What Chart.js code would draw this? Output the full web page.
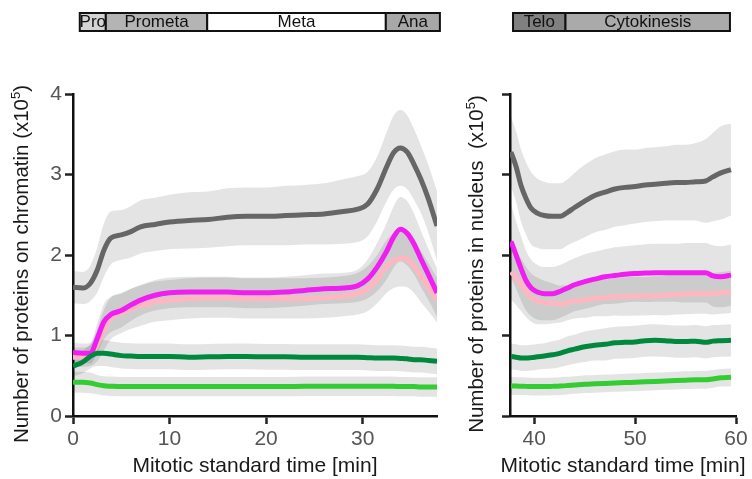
<!DOCTYPE html>
<html>
<head>
<meta charset="utf-8">
<script src="https://cdn.jsdelivr.net/npm/chart.js@4.4.1/dist/chart.umd.min.js"></script>
<style>
  html, body { margin: 0; padding: 0; background: #fff; }
  #wrap { position: relative; width: 752px; height: 479px; overflow: hidden; }
  canvas { position: absolute; top: 0; }
  #chromatin { left: 0; }
  #nucleus { left: 450px; }
</style>
</head>
<body>
<div id="wrap">
  <canvas id="chromatin" width="450" height="479"></canvas>
  <canvas id="nucleus" width="302" height="479"></canvas>
</div>
<script>
// ---- Chromatin-bound pool, prophase to anaphase (x10^5 proteins) ----
const timeChromatin = [0, 1, 1.8, 2.5, 3.2, 3.9, 5, 6, 7, 8.5, 10, 12, 14, 16, 18, 20, 22, 24, 26, 28, 29.5, 30.5, 31.5, 32.5, 33.2, 33.9, 34.6, 35.3, 36, 36.8, 37.7];
const grayChromatin = [1.60, 1.59, 1.65, 1.81, 2.06, 2.21, 2.25, 2.29, 2.35, 2.38, 2.41, 2.43, 2.44, 2.47, 2.48, 2.48, 2.49, 2.50, 2.51, 2.54, 2.57, 2.63, 2.82, 3.10, 3.27, 3.33, 3.28, 3.13, 2.95, 2.70, 2.36];
const graySdChromatin = [0.20, 0.20, 0.22, 0.28, 0.33, 0.33, 0.31, 0.32, 0.33, 0.33, 0.34, 0.35, 0.35, 0.36, 0.36, 0.36, 0.37, 0.37, 0.38, 0.40, 0.41, 0.40, 0.40, 0.43, 0.46, 0.47, 0.46, 0.44, 0.42, 0.42, 0.43];
const magentaChromatin = [0.79, 0.78, 0.78, 0.96, 1.17, 1.26, 1.31, 1.38, 1.44, 1.50, 1.53, 1.54, 1.54, 1.54, 1.53, 1.53, 1.54, 1.56, 1.58, 1.59, 1.62, 1.70, 1.85, 2.05, 2.22, 2.32, 2.27, 2.14, 1.96, 1.76, 1.53];
const magentaSdChromatin = [0.12, 0.12, 0.13, 0.18, 0.22, 0.22, 0.21, 0.20, 0.19, 0.19, 0.19, 0.19, 0.19, 0.19, 0.19, 0.19, 0.19, 0.19, 0.19, 0.19, 0.20, 0.24, 0.30, 0.35, 0.38, 0.40, 0.40, 0.38, 0.35, 0.32, 0.30];
const pinkChromatin = [0.73, 0.73, 0.75, 0.88, 1.07, 1.21, 1.28, 1.33, 1.37, 1.42, 1.44, 1.46, 1.47, 1.47, 1.46, 1.46, 1.46, 1.46, 1.47, 1.49, 1.52, 1.58, 1.70, 1.86, 1.93, 1.96, 1.95, 1.87, 1.74, 1.60, 1.44];
const pinkSdChromatin = [0.12, 0.12, 0.13, 0.20, 0.25, 0.26, 0.25, 0.25, 0.25, 0.25, 0.25, 0.25, 0.25, 0.25, 0.25, 0.25, 0.25, 0.25, 0.25, 0.25, 0.26, 0.28, 0.30, 0.33, 0.34, 0.35, 0.35, 0.34, 0.32, 0.30, 0.28];
const darkGreenChromatin = [0.62, 0.67, 0.74, 0.78, 0.78, 0.77, 0.75, 0.745, 0.74, 0.74, 0.74, 0.73, 0.735, 0.74, 0.74, 0.735, 0.735, 0.73, 0.73, 0.73, 0.73, 0.725, 0.72, 0.72, 0.72, 0.715, 0.71, 0.70, 0.70, 0.69, 0.68];
const darkGreenSdChromatin = [0.13, 0.14, 0.15, 0.16, 0.16, 0.16, 0.16, 0.16, 0.16, 0.16, 0.16, 0.16, 0.16, 0.16, 0.16, 0.16, 0.16, 0.16, 0.16, 0.16, 0.16, 0.16, 0.16, 0.16, 0.16, 0.16, 0.16, 0.16, 0.16, 0.16, 0.16];
const lightGreenChromatin = [0.42, 0.42, 0.41, 0.39, 0.375, 0.37, 0.365, 0.365, 0.365, 0.365, 0.365, 0.365, 0.365, 0.365, 0.365, 0.365, 0.365, 0.37, 0.37, 0.37, 0.37, 0.37, 0.37, 0.37, 0.37, 0.365, 0.365, 0.365, 0.36, 0.36, 0.36];
const lightGreenSdChromatin = [0.13, 0.13, 0.13, 0.12, 0.12, 0.12, 0.12, 0.12, 0.12, 0.12, 0.12, 0.12, 0.12, 0.12, 0.12, 0.12, 0.12, 0.12, 0.12, 0.12, 0.12, 0.12, 0.12, 0.12, 0.12, 0.12, 0.12, 0.12, 0.12, 0.12, 0.12];

// ---- Nuclear pool, telophase and cytokinesis (x10^5 proteins) ----
const timeNucleus = [37.7, 38.2, 38.7, 39.2, 39.7, 40.3, 41, 41.8, 42.6, 43.3, 44, 45, 46, 47, 48, 49, 50, 51, 52, 53, 54, 55, 56, 57, 57.7, 58.5, 59.5];
const grayNucleus = [3.28, 3.10, 2.86, 2.70, 2.58, 2.52, 2.49, 2.48, 2.48, 2.53, 2.59, 2.67, 2.74, 2.78, 2.82, 2.84, 2.85, 2.87, 2.88, 2.89, 2.90, 2.90, 2.91, 2.92, 2.97, 3.02, 3.06];
const graySdNucleus = [0.43, 0.44, 0.45, 0.45, 0.45, 0.43, 0.42, 0.41, 0.41, 0.41, 0.43, 0.45, 0.46, 0.47, 0.47, 0.47, 0.46, 0.46, 0.46, 0.46, 0.47, 0.47, 0.48, 0.52, 0.55, 0.58, 0.57];
const magentaNucleus = [2.17, 2.00, 1.83, 1.68, 1.59, 1.54, 1.52, 1.52, 1.55, 1.59, 1.63, 1.67, 1.70, 1.73, 1.745, 1.76, 1.77, 1.775, 1.78, 1.78, 1.78, 1.78, 1.78, 1.78, 1.74, 1.73, 1.75];
const magentaSdNucleus = [0.45, 0.42, 0.40, 0.37, 0.35, 0.34, 0.33, 0.33, 0.33, 0.33, 0.33, 0.34, 0.34, 0.34, 0.35, 0.35, 0.35, 0.36, 0.36, 0.36, 0.36, 0.37, 0.37, 0.37, 0.38, 0.38, 0.38];
const pinkNucleus = [1.79, 1.72, 1.63, 1.54, 1.47, 1.43, 1.41, 1.40, 1.39, 1.41, 1.43, 1.44, 1.46, 1.47, 1.48, 1.485, 1.49, 1.49, 1.495, 1.50, 1.51, 1.515, 1.52, 1.52, 1.52, 1.53, 1.54];
const pinkSdNucleus = [0.35, 0.34, 0.33, 0.31, 0.30, 0.29, 0.27, 0.25, 0.23, 0.22, 0.22, 0.22, 0.22, 0.23, 0.23, 0.24, 0.24, 0.24, 0.24, 0.25, 0.25, 0.25, 0.25, 0.25, 0.26, 0.26, 0.26];
const darkGreenNucleus = [0.74, 0.73, 0.72, 0.72, 0.725, 0.735, 0.745, 0.76, 0.78, 0.81, 0.83, 0.86, 0.88, 0.89, 0.91, 0.915, 0.92, 0.935, 0.94, 0.935, 0.925, 0.925, 0.93, 0.915, 0.93, 0.935, 0.94];
const darkGreenSdNucleus = [0.16, 0.16, 0.16, 0.16, 0.16, 0.16, 0.16, 0.17, 0.17, 0.18, 0.18, 0.19, 0.19, 0.20, 0.20, 0.20, 0.20, 0.20, 0.20, 0.20, 0.20, 0.20, 0.20, 0.20, 0.20, 0.20, 0.20];
const lightGreenNucleus = [0.375, 0.372, 0.37, 0.368, 0.366, 0.365, 0.365, 0.368, 0.372, 0.378, 0.385, 0.395, 0.40, 0.405, 0.41, 0.415, 0.42, 0.425, 0.43, 0.435, 0.44, 0.445, 0.45, 0.45, 0.46, 0.475, 0.48];
const lightGreenSdNucleus = [0.11, 0.11, 0.11, 0.11, 0.11, 0.11, 0.11, 0.11, 0.11, 0.11, 0.11, 0.11, 0.11, 0.11, 0.11, 0.11, 0.11, 0.11, 0.11, 0.11, 0.11, 0.11, 0.11, 0.11, 0.11, 0.11, 0.11];

// ---- Axis ticks ----
const yTicks = [0, 1, 2, 3, 4];
const xTicksChromatin = [0, 10, 20, 30];
const xTicksNucleus = [40, 50, 60];

// ---- Mitotic phase bars (minutes) ----
const phasesChromatin = ['Pro', 'Prometa', 'Meta', 'Ana'];
const phaseStartsChromatin = [0.7, 3.4, 13.9, 32.4];
const phaseEndsChromatin = [3.4, 13.9, 32.4, 38.0];
const phasesNucleus = ['Telo', 'Cytokinesis'];
const phaseStartsNucleus = [37.9, 43.1];
const phaseEndsNucleus = [43.1, 59.4];

const FONT = "'Liberation Sans', Arial, Helvetica, sans-serif";
const X_TITLE = 'Mitotic standard time [min]';
const COLORS = {
  gray: '#666666',
  magenta: '#f01ef0',
  pink: '#ffb6c1',
  darkGreen: '#00883f',
  lightGreen: '#33cc33'
};
const PHASE_FILLS = {
  Pro: '#d4d4d4', Prometa: '#b4b4b4', Meta: '#ffffff', Ana: '#a8a8a8',
  Telo: '#808080', Cytokinesis: '#aaaaaa'
};
Chart.defaults.font.family = FONT;

function points(time, values) {
  return time.map((t, i) => ({ x: t, y: values[i] }));
}

// mean ± SD shaded envelope: upper edge, then lower edge filled back to it
function band(time, mean, sd) {
  const common = {
    pointRadius: 0, borderWidth: 0, borderColor: 'transparent',
    cubicInterpolationMode: 'monotone', order: 10
  };
  return [
    Object.assign({}, common, { data: time.map((t, i) => ({ x: t, y: mean[i] + sd[i] })), fill: false }),
    Object.assign({}, common, { data: time.map((t, i) => ({ x: t, y: mean[i] - sd[i] })),
      fill: '-1', backgroundColor: 'rgba(0,0,0,0.105)' })
  ];
}

function line(time, mean, color, order) {
  return {
    data: points(time, mean), borderColor: color, borderWidth: 5, pointRadius: 0,
    cubicInterpolationMode: 'monotone', fill: false, order: order,
    borderCapStyle: 'butt', borderJoinStyle: 'round'
  };
}

// Phase annotation bar above the plot, positioned on the x scale
const phaseBarPlugin = {
  id: 'phaseBar',
  afterDraw(chart, args, opts) {
    const { ctx } = chart;
    const xs = chart.scales.x;
    ctx.save();
    ctx.font = '17px ' + FONT;
    ctx.textAlign = 'center';
    ctx.textBaseline = 'middle';
    opts.labels.forEach((name, i) => {
      const x0 = xs.getPixelForValue(opts.starts[i]);
      const x1 = xs.getPixelForValue(opts.ends[i]);
      ctx.fillStyle = PHASE_FILLS[name];
      ctx.fillRect(x0, 13, x1 - x0, 18);
      ctx.lineWidth = 2;
      ctx.strokeStyle = '#111';
      ctx.strokeRect(x0, 13, x1 - x0, 18);
      ctx.fillStyle = '#111';
      ctx.fillText(name, (x0 + x1) / 2, 22.5);
    });
    ctx.restore();
  }
};

// Axis titles: x title centred under the axis (allowed to run past its ends),
// rotated y title with a superscript exponent
const axisTitlePlugin = {
  id: 'axisTitles',
  afterDraw(chart, args, opts) {
    const { ctx } = chart;
    const xs = chart.scales.x;
    ctx.save();
    ctx.fillStyle = '#1a1a1a';
    ctx.textBaseline = 'middle';
    ctx.textAlign = 'center';
    ctx.font = '21px ' + FONT;
    ctx.fillText(X_TITLE, (xs.left + xs.right) / 2, 466);

    ctx.translate(opts.x, opts.y);
    ctx.rotate(-Math.PI / 2);
    ctx.textAlign = 'left';
    const big = '20.5px ' + FONT, small = '13px ' + FONT;
    ctx.font = big;
    const w1 = ctx.measureText(opts.text).width;
    const w3 = ctx.measureText(')').width;
    ctx.font = small;
    const w2 = ctx.measureText(opts.sup).width;
    let x = -(w1 + w2 + w3) / 2;
    ctx.font = big;
    ctx.fillText(opts.text, x, 0);
    x += w1;
    ctx.font = small;
    ctx.fillText(opts.sup, x, -6);
    x += w2;
    ctx.font = big;
    ctx.fillText(')', x, 0);
    ctx.restore();
  }
};

function makeChart(id, cfg) {
  const datasets = [
    ...band(cfg.time, cfg.gray, cfg.graySd),
    ...band(cfg.time, cfg.magenta, cfg.magentaSd),
    ...band(cfg.time, cfg.pink, cfg.pinkSd),
    ...band(cfg.time, cfg.darkGreen, cfg.darkGreenSd),
    ...band(cfg.time, cfg.lightGreen, cfg.lightGreenSd),
    line(cfg.time, cfg.gray, COLORS.gray, 5),
    line(cfg.time, cfg.pink, COLORS.pink, 4),
    line(cfg.time, cfg.magenta, COLORS.magenta, 3),
    line(cfg.time, cfg.darkGreen, COLORS.darkGreen, 2),
    line(cfg.time, cfg.lightGreen, COLORS.lightGreen, 1)
  ];
  return new Chart(document.getElementById(id), {
    type: 'line',
    data: { datasets },
    plugins: [phaseBarPlugin, axisTitlePlugin],
    options: {
      responsive: false,
      animation: false,
      devicePixelRatio: 1,
      layout: { padding: { top: 94, left: 0, right: cfg.padRight, bottom: 0 } },
      plugins: {
        legend: { display: false },
        tooltip: { enabled: false },
        filler: { drawTime: 'beforeDatasetsDraw' },
        phaseBar: { labels: cfg.phases, starts: cfg.phaseStarts, ends: cfg.phaseEnds },
        axisTitles: { text: cfg.yTitle, sup: '5', x: cfg.yTitleX, y: 264 }
      },
      scales: {
        x: {
          type: 'linear', min: cfg.xMin, max: cfg.xMax,
          afterBuildTicks: (s) => { s.ticks = cfg.xTicks.map(v => ({ value: v })); },
          afterFit: (s) => { s.height = 63; },
          grid: { display: true, drawOnChartArea: false, drawTicks: true, tickLength: 8,
                  tickColor: '#222', tickWidth: 2.5 },
          border: { display: true, color: '#111', width: 2.5 },
          ticks: { color: '#555', font: { size: 21 }, padding: 3, maxRotation: 0 },
          title: { display: false }
        },
        y: {
          min: 0, max: 4,
          afterBuildTicks: (s) => { s.ticks = yTicks.map(v => ({ value: v })); },
          afterFit: (s) => { s.width = cfg.yWidth; },
          grid: { display: true, drawOnChartArea: false, drawTicks: true, tickLength: 8,
                  tickColor: '#222', tickWidth: 2.5 },
          border: { display: true, color: '#111', width: 2.5 },
          ticks: { display: cfg.yLabels, color: '#555', font: { size: 21 }, padding: 3 }
        }
      }
    }
  });
}

makeChart('chromatin', {
  time: timeChromatin,
  gray: grayChromatin, graySd: graySdChromatin,
  magenta: magentaChromatin, magentaSd: magentaSdChromatin,
  pink: pinkChromatin, pinkSd: pinkSdChromatin,
  darkGreen: darkGreenChromatin, darkGreenSd: darkGreenSdChromatin,
  lightGreen: lightGreenChromatin, lightGreenSd: lightGreenSdChromatin,
  xMin: 0, xMax: 37.7, xTicks: xTicksChromatin, padRight: 13, yWidth: 73, yLabels: true,
  phases: phasesChromatin, phaseStarts: phaseStartsChromatin, phaseEnds: phaseEndsChromatin,
  yTitle: 'Number of proteins on chromatin (x10', yTitleX: 22
});

makeChart('nucleus', {
  time: timeNucleus,
  gray: grayNucleus, graySd: graySdNucleus,
  magenta: magentaNucleus, magentaSd: magentaSdNucleus,
  pink: pinkNucleus, pinkSd: pinkSdNucleus,
  darkGreen: darkGreenNucleus, darkGreenSd: darkGreenSdNucleus,
  lightGreen: lightGreenNucleus, lightGreenSd: lightGreenSdNucleus,
  xMin: 37.6, xMax: 60, xTicks: xTicksNucleus, padRight: 16, yWidth: 60, yLabels: false,
  phases: phasesNucleus, phaseStarts: phaseStartsNucleus, phaseEnds: phaseEndsNucleus,
  yTitle: 'Number of proteins in nucleus  (x10', yTitleX: 27
});
</script>
</body>
</html>
